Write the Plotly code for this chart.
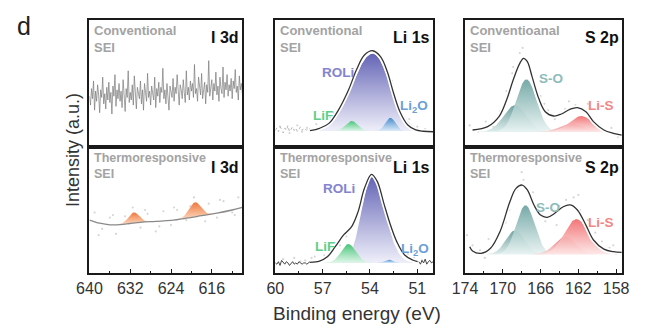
import numpy as np
import plotly.graph_objects as go

# ---------------- data ----------------
# I 3d, conventional SEI: raw noisy spectrum, 640 -> 610 eV, 0.2 eV step
I3D_CONV_START, I3D_CONV_STEP = 640.0, -0.2
I3D_CONV_Y = [
    40, 33, 46, 38, 52, 29, 44, 36, 49, 41, 27, 45, 39, 55, 34, 42, 30, 47, 37, 51,
    35, 43, 26, 48, 40, 57, 32, 45, 38, 50, 36, 44, 31, 53, 41, 28, 46, 39, 60, 35,
    43, 37, 49, 33, 56, 40, 30, 47, 42, 38, 52, 34, 45, 29, 50, 41, 36, 58, 39, 44,
    33, 48, 42, 37, 55, 31, 46, 40, 51, 35, 47, 43, 62, 38, 45, 34, 50, 41, 29, 48,
    44, 39, 54, 36, 47, 42, 57, 40, 33, 49, 45, 38, 53, 43, 35, 60, 41, 47, 37, 52,
    44, 50, 39, 65, 42, 46, 36, 55, 48, 41, 58, 38, 45, 51, 34, 49, 43, 68, 40, 47,
    53, 37, 50, 44, 59, 41, 48, 36, 55, 46, 42, 63, 39, 51, 45, 57, 40, 49, 44, 54,
    38, 52, 46, 61, 43, 48, 37, 56, 45, 50, 42]

# I 3d, thermoresponsive SEI: background + two fitted peaks
I3D_TH_BG_X = [640, 638, 636, 633, 630, 627, 624, 621, 618, 615, 612, 610]
I3D_TH_BG_Y = [42, 39.5, 38.2, 38.8, 40.2, 41, 41.8, 43.5, 45.5, 47.5, 50, 52]
I3D_TH_PEAK_C = [631.3, 619.3]
I3D_TH_PEAK_H = [8.5, 11.5]
I3D_TH_PEAK_W = [2.5, 2.7]
I3D_TH_DOTS_X = [639, 637.5, 636, 634.8, 633, 631.5, 630, 628.6, 627, 625.5, 624, 622.8, 621,
                 619.5, 618, 616.6, 615, 613.7, 612, 610.8, 638.2, 635.4, 632.2, 629.1, 626.3,
                 623.4, 620.2, 617.3, 614.4, 611.5]
I3D_TH_DOTS_Y = [48, 35, 44, 31, 45, 52, 36, 47, 33, 49, 38, 50, 42, 60, 47, 55, 44, 57, 48, 60,
                 30, 46, 39, 50, 37, 52, 53, 41, 58, 46]

# Li 1s, conventional SEI
LI_CONV_RAW_START, LI_CONV_RAW_STEP = 60.0, -0.1
LI_CONV_RAW_Y = [13, 15, 12, 16, 14, 11, 15, 13, 17, 12, 14, 16, 13, 15, 12, 14, 16, 13, 15, 14,
                 13, 15, 14, 13, 14]
LI_CONV_ENV_X = [57.8, 57.2, 56.6, 56.0, 55.36, 54.86, 54.35, 53.83, 53.33, 52.9, 52.5, 52.1,
                 51.6, 51.1, 50.6, 50.0]
LI_CONV_ENV_Y = [12.9, 14.7, 18.6, 29.1, 44.9, 60.6, 72.4, 75.8, 71.1, 59.3, 42.3, 27.8,
                 17.3, 13.4, 12.4, 12.0]
LI_CONV_BASE = 12.5
LI_CONV_NAMES = ["ROLi", "LiF", "Li2O"]
LI_CONV_C = [53.83, 55.16, 52.7]
LI_CONV_H = [61.0, 8.0, 10.5]
LI_CONV_W_HI = [3.0, 0.9, 0.75]
LI_CONV_W_LO = [2.6, 0.9, 0.75]
LI_CONV_DOTS_X = [59.7, 59.1, 58.6, 58.0, 57.4, 56.9, 56.3, 55.7, 55.1, 54.6, 53.1, 52.6, 52.0,
                  51.5, 51.0, 50.5, 58.3, 57.1, 56.5, 51.8]
LI_CONV_DOTS_Y = [16, 11, 17, 15, 18, 17, 27, 38, 52, 66, 67, 52, 31, 22, 16, 14, 12, 14, 23, 15]

# Li 1s, thermoresponsive SEI
LI_TH_RAW_L_START, LI_TH_RAW_STEP = 60.0, -0.1
LI_TH_RAW_L_Y = [8, 7, 9, 6, 10, 8, 7, 9, 8, 6, 8, 9, 7, 8, 7, 9, 8, 7, 8, 8, 7, 8, 9, 8, 8]
LI_TH_RAW_R_START = 50.9
LI_TH_RAW_R_Y = [9, 7, 10, 8, 11, 7, 9, 10, 8, 9]
LI_TH_ENV_X = [57.8, 57.2, 56.7, 56.2, 55.67, 55.16, 54.75, 54.35, 53.9, 53.53, 53.12, 52.7,
               52.3, 51.8, 51.3, 50.98]
LI_TH_ENV_Y = [8.5, 9.5, 12.9, 20.9, 30.2, 36.8, 48.7, 67.2, 78.3, 72.5, 55.3, 38.1,
               24.9, 14.3, 10.3, 9.0]
LI_TH_BASE = 8.0
LI_TH_C = [53.9, 55.36, 52.8]
LI_TH_H = [68.0, 15.0, 2.5]
LI_TH_W_HI = [1.5, 1.1, 0.6]
LI_TH_W_LO = [1.95, 1.1, 0.6]
LI_TH_DOTS_X = [59.5, 58.8, 58.1, 57.5, 56.9, 56.4, 55.9, 55.5, 55.0, 52.4, 52.0, 51.6, 51.2,
                50.7, 58.4, 57.7, 56.6]
LI_TH_DOTS_Y = [11, 12, 10, 13, 14, 17, 22, 29, 38, 28, 20, 15, 12, 10, 9, 12, 16]

# S 2p, conventional SEI
S_CONV_ENV_X = [173.2, 171.6, 170.4, 169.6, 168.9, 168.2, 167.8, 167.4, 166.9, 166.2, 165.5,
                164.6, 163.8, 162.9, 162.1, 161.2, 160.4, 159.3, 158.3, 157.4]
S_CONV_ENV_Y = [13.4, 16, 23.9, 37, 52.8, 65.9, 69.8, 67.2, 55.4, 38.3, 27.8,
                24.4, 26, 29.7, 31, 27.8, 20, 13.4, 10.8, 9.4]
S_CONV_BASE = 12.0
S_CONV_C = [168.7, 167.5, 162.7, 161.7]     # S-O minor, S-O major, Li-S minor, Li-S major
S_CONV_H = [21.0, 41.3, 6.6, 12.4]
S_CONV_W = [2.8, 2.5, 2.8, 2.9]
S_CONV_DOTS_X = [173.5, 172.6, 171.8, 171.0, 170.3, 169.6, 168.9, 168.2, 167.4, 166.7, 166.0,
                 165.2, 164.5, 163.8, 163.0, 162.3, 161.5, 160.8, 160.0, 159.2, 158.5, 157.8,
                 172.1, 169.0, 167.9, 165.6, 163.4, 161.0]
S_CONV_DOTS_Y = [17, 12, 20, 16, 28, 44, 63, 74, 66, 52, 40, 29, 22, 27, 36, 33, 28, 20, 16, 12,
                 15, 8, 15, 58, 78, 34, 30, 34]

# S 2p, thermoresponsive SEI
S_TH_ENV_X = [173.5, 173.2, 172.3, 171.3, 170.3, 169.25, 168.6, 167.95, 167.4, 166.7, 166.0,
              165.3, 164.5, 163.6, 162.85, 162.1, 161.2, 160.4, 159.3, 158.3, 157.4]
S_TH_ENV_Y = [20.9, 17.5, 15.6, 19.6, 32.8, 56.6, 67.2, 69.8, 65.9, 54, 46,
              44.2, 47.4, 52.6, 54, 50, 38, 26.2, 19, 16.9, 16.4]
S_TH_BASE = 14.8
S_TH_C = [168.7, 167.6, 163.4, 162.2]
S_TH_H = [19.0, 39.0, 14.0, 28.0]
S_TH_W = [2.3, 2.3, 2.6, 3.0]
S_TH_DOTS_X = [173.2, 172.4, 171.5, 170.8, 170.0, 169.3, 168.5, 167.8, 167.0, 166.3, 165.5,
               164.8, 164.0, 163.3, 162.5, 161.8, 161.0, 160.2, 159.5, 158.7, 158.0, 171.9,
               169.7, 166.8, 164.3, 162.0, 160.6, 158.3, 173.8, 168.0]
S_TH_DOTS_Y = [22, 18, 27, 24, 36, 50, 66, 74, 60, 52, 41, 46, 53, 58, 60, 50, 42, 32, 25, 20,
               15, 12, 40, 64, 38, 62, 28, 22, 30, 80]

X_RANGES = [[640, 610], [60, 50], [174, 157.4]]
TICKS = [[640, 632, 624, 616], [60, 57, 54, 51], [174, 170, 166, 162, 158]]
MINOR_DTICK = [4, 1.5, 2]
CORE_LEVELS = ["I 3d", "Li 1s", "S 2p"]
TOP_TAGS = ["Conventional<br>SEI", "Conventional<br>SEI", "Conventioanal<br>SEI"]
BOTTOM_TAG = "Thermoresponsive<br>SEI"

# ---------------- styles ----------------
FILLS = {
    "orange": ("rgba(252,215,190,0.95)", "rgba(240,120,60,1)"),
    "purple": ("rgba(238,238,250,0.95)", "rgba(100,100,182,1)"),
    "green": ("rgba(222,246,232,0.9)", "rgba(70,196,118,1)"),
    "blue": ("rgba(218,234,248,0.9)", "rgba(70,140,206,1)"),
    "teal": ("rgba(232,243,242,0.9)", "rgba(110,165,163,0.95)"),
    "teal2": ("rgba(214,232,231,0.85)", "rgba(95,150,148,0.9)"),
    "red": ("rgba(253,230,230,0.9)", "rgba(242,110,112,0.95)"),
    "red2": ("rgba(250,214,214,0.85)", "rgba(230,112,114,0.9)"),
}

fig = go.Figure()


def gauss(x, c, h, w_hi, w_lo):
    w = np.where(x >= c, w_hi, w_lo)
    return h * np.exp(-4 * np.log(2) * (x - c) ** 2 / w ** 2)


def add_fill(xa, ya, x, base_y, comp, color):
    keep = comp > 0.05
    xs = x[keep]
    top = base_y[keep] + comp[keep]
    bot = base_y[keep]
    px = np.concatenate([xs, xs[::-1]])
    py = np.concatenate([top, bot[::-1]])
    lo, hi = FILLS[color]
    fig.add_trace(go.Scatter(
        x=px, y=py, xaxis=xa, yaxis=ya, mode="lines", line=dict(width=0),
        fill="toself", fillcolor=hi,
        fillgradient=dict(type="vertical", colorscale=[[0, lo], [1, hi]]),
        hoverinfo="skip"))


def add_dots(xa, ya, xs, ys):
    fig.add_trace(go.Scatter(x=xs, y=ys, xaxis=xa, yaxis=ya, mode="markers",
                             marker=dict(size=2.2, color="#d6d6d6"), hoverinfo="skip"))


def add_env(xa, ya, xs, ys, color="#333333", width=1.3):
    fig.add_trace(go.Scatter(x=xs, y=ys, xaxis=xa, yaxis=ya, mode="lines",
                             line=dict(color="white", width=4.5, shape="spline", smoothing=1.0),
                             hoverinfo="skip"))
    fig.add_trace(go.Scatter(x=xs, y=ys, xaxis=xa, yaxis=ya, mode="lines",
                             line=dict(color=color, width=width, shape="spline", smoothing=1.0),
                             hoverinfo="skip"))


# ---- panel 1 top: I 3d conventional ----
x_i = I3D_CONV_START + I3D_CONV_STEP * np.arange(len(I3D_CONV_Y))
fig.add_trace(go.Scatter(x=x_i, y=I3D_CONV_Y, xaxis="x", yaxis="y", mode="lines",
                         line=dict(color="#7a7a7a", width=0.7), hoverinfo="skip"))

# ---- panel 1 bottom: I 3d thermoresponsive ----
add_dots("x4", "y4", I3D_TH_DOTS_X, I3D_TH_DOTS_Y)
xg = np.linspace(640, 610, 500)
bg = np.interp(xg[::-1], I3D_TH_BG_X[::-1], I3D_TH_BG_Y[::-1])[::-1]
for c, h, w in zip(I3D_TH_PEAK_C, I3D_TH_PEAK_H, I3D_TH_PEAK_W):
    add_fill("x4", "y4", xg, bg, gauss(xg, c, h, w, w), "orange")
fig.add_trace(go.Scatter(x=I3D_TH_BG_X, y=I3D_TH_BG_Y, xaxis="x4", yaxis="y4", mode="lines",
                         line=dict(color="#8a8a8a", width=1.3, shape="spline"), hoverinfo="skip"))

# ---- panel 2 top: Li 1s conventional ----
xg = np.linspace(60, 50, 600)
add_dots("x2", "y2", LI_CONV_DOTS_X, LI_CONV_DOTS_Y)
x_raw = LI_CONV_RAW_START + LI_CONV_RAW_STEP * np.arange(len(LI_CONV_RAW_Y))
fig.add_trace(go.Scatter(x=x_raw, y=LI_CONV_RAW_Y, xaxis="x2", yaxis="y2", mode="lines",
                         line=dict(color="#b0b0b0", width=0.9, dash="dot"), hoverinfo="skip"))
base = np.full_like(xg, LI_CONV_BASE)
for c, h, wh, wl, col in zip(LI_CONV_C, LI_CONV_H, LI_CONV_W_HI, LI_CONV_W_LO,
                             ["purple", "green", "blue"]):
    add_fill("x2", "y2", xg, base, gauss(xg, c, h, wh, wl), col)
add_env("x2", "y2", LI_CONV_ENV_X, LI_CONV_ENV_Y)

# ---- panel 2 bottom: Li 1s thermoresponsive ----
add_dots("x5", "y5", LI_TH_DOTS_X, LI_TH_DOTS_Y)
x_raw = LI_TH_RAW_L_START + LI_TH_RAW_STEP * np.arange(len(LI_TH_RAW_L_Y))
fig.add_trace(go.Scatter(x=x_raw, y=LI_TH_RAW_L_Y, xaxis="x5", yaxis="y5", mode="lines",
                         line=dict(color="#333333", width=0.9), hoverinfo="skip"))
x_raw = LI_TH_RAW_R_START + LI_TH_RAW_STEP * np.arange(len(LI_TH_RAW_R_Y))
fig.add_trace(go.Scatter(x=x_raw, y=LI_TH_RAW_R_Y, xaxis="x5", yaxis="y5", mode="lines",
                         line=dict(color="#333333", width=0.9), hoverinfo="skip"))
base = np.full_like(xg, LI_TH_BASE)
for c, h, wh, wl, col in zip(LI_TH_C, LI_TH_H, LI_TH_W_HI, LI_TH_W_LO,
                             ["purple", "green", "blue"]):
    add_fill("x5", "y5", xg, base, gauss(xg, c, h, wh, wl), col)
add_env("x5", "y5", LI_TH_ENV_X, LI_TH_ENV_Y)

# ---- panel 3 top: S 2p conventional ----
xg = np.linspace(174, 157.4, 600)
add_dots("x3", "y3", S_CONV_DOTS_X, S_CONV_DOTS_Y)
base = np.full_like(xg, S_CONV_BASE)
for c, h, w, col in zip(S_CONV_C, S_CONV_H, S_CONV_W, ["teal2", "teal", "red2", "red"]):
    add_fill("x3", "y3", xg, base, gauss(xg, c, h, w, w), col)
add_env("x3", "y3", S_CONV_ENV_X, S_CONV_ENV_Y)

# ---- panel 3 bottom: S 2p thermoresponsive ----
add_dots("x6", "y6", S_TH_DOTS_X, S_TH_DOTS_Y)
base = np.full_like(xg, S_TH_BASE)
for c, h, w, col in zip(S_TH_C, S_TH_H, S_TH_W, ["teal2", "teal", "red2", "red"]):
    add_fill("x6", "y6", xg, base, gauss(xg, c, h, w, w), col)
add_env("x6", "y6", S_TH_ENV_X, S_TH_ENV_Y)

# ---------------- layout ----------------
W, H = 654, 333
col_px = [(79, 237), (271, 434), (467, 629)]
row_px = [(20, 147), (147, 273)]
axis_line = dict(showline=True, linecolor="#1a1a1a", linewidth=1.6, mirror=True,
                 showgrid=False, zeroline=False, fixedrange=True)
layout = dict(width=W, height=H, margin=dict(l=0, r=0, t=0, b=0),
              paper_bgcolor="white", plot_bgcolor="white", showlegend=False,
              font=dict(family="Arial, Liberation Sans, sans-serif", color="#333333"))
for r in range(2):
    for ci in range(3):
        idx = r * 3 + ci + 1
        xname = "xaxis" if idx == 1 else f"xaxis{idx}"
        yname = "yaxis" if idx == 1 else f"yaxis{idx}"
        yref = "y" if idx == 1 else f"y{idx}"
        xref = "x" if idx == 1 else f"x{idx}"
        x0, x1 = col_px[ci]
        y0, y1 = row_px[r]
        xa = dict(axis_line, domain=[x0 / W, x1 / W], range=X_RANGES[ci], anchor=yref)
        if r == 1:
            xa.update(tickmode="array", tickvals=TICKS[ci], ticktext=[str(t) for t in TICKS[ci]],
                      ticks="inside", ticklen=4, tickwidth=1.2, tickcolor="#1a1a1a",
                      tickfont=dict(size=16, color="#333333"),
                      minor=dict(ticks="inside", ticklen=2.5, tickwidth=1, tickcolor="#1a1a1a",
                                 dtick=MINOR_DTICK[ci], tick0=TICKS[ci][0]))
        else:
            xa.update(showticklabels=False, ticks="")
        ya = dict(axis_line, domain=[1 - y1 / H, 1 - y0 / H], range=[0, 100],
                  showticklabels=False, ticks="", anchor=xref)
        layout[xname] = xa
        layout[yname] = ya

ann = []


def A(text, px, py, size, color, bold=False, xanchor="center", yanchor="middle", angle=0,
      align="center"):
    ann.append(dict(text=f"<b>{text}</b>" if bold else text, x=px / W, y=1 - py / H,
                    xref="paper", yref="paper", showarrow=False, xanchor=xanchor,
                    yanchor=yanchor, textangle=angle, align=align,
                    font=dict(size=size, color=color,
                              family="Arial, Liberation Sans, sans-serif")))


A("d", 11, 26, 25, "#222222")
A("Intensity (a.u.)", 62, 150, 18, "#333333", angle=-90)
A("Binding energy (eV)", 355, 313, 19, "#333333")

GREY = "#a3a3a3"
for ci in range(3):
    x0, x1 = col_px[ci]
    A(TOP_TAGS[ci], x0 + 3, 21, 13, GREY, bold=True, xanchor="left", yanchor="top",
      align="left")
    A(BOTTOM_TAG, x0 + 3, 149, 12.5, GREY, bold=True, xanchor="left", yanchor="top",
      align="left")
    A(CORE_LEVELS[ci], x1 - 1, 37, 16, "#111111", bold=True, xanchor="right")
    A(CORE_LEVELS[ci], x1 - 1, 167, 16, "#111111", bold=True, xanchor="right")

# component labels
A("ROLi", 336, 72, 13.5, "#8383cf", bold=True)
A("LiF", 320, 116, 13.5, "#5fcf88", bold=True)
A("Li<sub>2</sub>O", 414, 107, 13.5, "#6b9fd6", bold=True)
A("ROLi", 337, 188, 13.5, "#8383cf", bold=True)
A("LiF", 322, 246, 13.5, "#5fcf88", bold=True)
A("Li<sub>2</sub>O", 415, 250, 13.5, "#6b9fd6", bold=True)
A("S-O", 556, 78, 13.5, "#8dbcbb", bold=True)
A("Li-S", 607, 105, 13.5, "#f28686", bold=True)
A("S-O", 553, 207, 13.5, "#8dbcbb", bold=True)
A("Li-S", 607, 222, 13.5, "#f28686", bold=True)

layout["annotations"] = ann
fig.update_layout(**layout)
fig.write_html("out.html")
